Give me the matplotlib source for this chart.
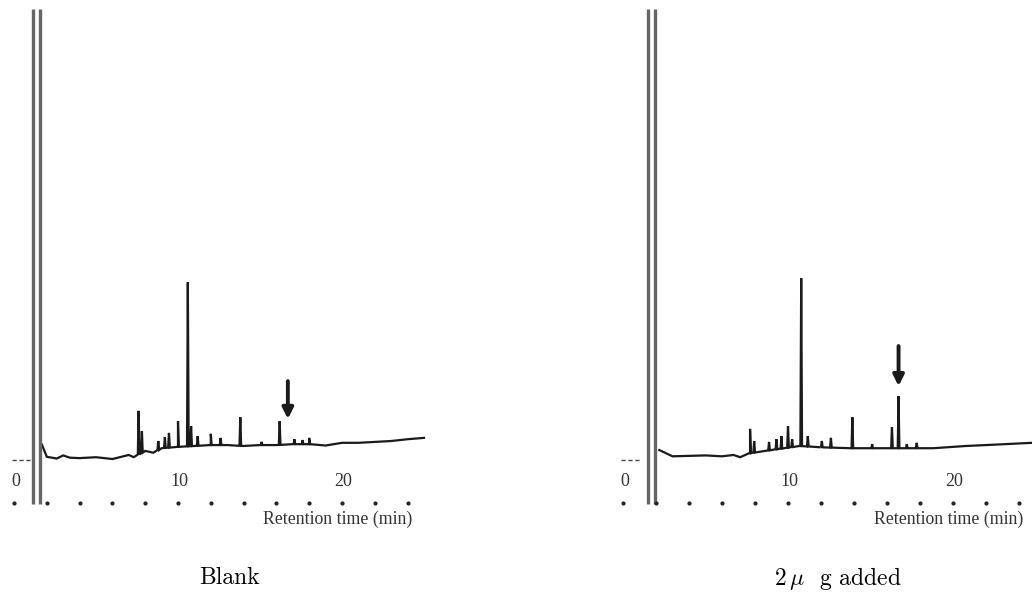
import numpy as np
import matplotlib.pyplot as plt

plt.rcParams['mathtext.fontset'] = 'cm'

# retention times (min) and detector response (arbitrary units)
blank_base_t = [1.7, 2.0, 2.6, 3.0, 3.4, 4.0, 5.0, 6.0, 7.0, 7.3, 8.0, 8.5, 9.0, 10.0, 11.0, 12.0, 13.0,
                14.0, 15.0, 16.0, 17.0, 18.0, 19.0, 20.0, 21.0, 22.0, 23.0, 24.0, 25.0]
blank_base_y = [3.2, 0.5, 0.1, 0.8, 0.3, 0.2, 0.4, 0.0, 0.9, 0.4, 1.8, 1.4, 2.4, 2.7, 2.9, 3.1, 3.1,
                2.9, 3.1, 3.1, 3.3, 3.3, 3.0, 3.6, 3.6, 3.8, 4.0, 4.4, 4.7]
blank_peak_t = [7.6, 7.8, 8.8, 9.2, 9.45, 10.0, 10.6, 10.8, 11.2, 12.0, 12.6,
                13.8, 15.1, 16.2, 17.1, 17.6, 18.0]
blank_peak_y = [10.7, 6.2, 4.0, 4.9, 5.8, 8.4, 39.3, 7.3, 5.1, 5.6, 4.7,
                9.3, 3.8, 8.4, 4.4, 4.2, 4.7]
blank_solvent_t = [1.15, 1.6]

added_base_t = [2.2, 3.0, 4.0, 5.0, 6.0, 6.7, 7.1, 7.7, 9.0, 10.7, 12.0,
                13.8, 16.2, 18.8, 20.8, 22.0, 24.8]
added_base_y = [2.0, 0.6, 0.7, 0.8, 0.6, 0.9, 0.4, 1.3, 2.0, 2.9, 2.6,
                2.4, 2.4, 2.4, 2.9, 3.1, 3.6]
added_peak_t = [7.7, 7.95, 8.85, 9.3, 9.6, 10.0, 10.25, 10.8, 11.2, 12.05, 12.6,
                13.9, 15.1, 16.3, 16.7, 17.2, 17.8]
added_peak_y = [6.7, 4.0, 3.8, 4.4, 5.1, 7.3, 4.4, 40.2, 5.1, 4.0, 4.7,
                9.3, 3.3, 7.1, 14.0, 3.3, 3.6]
added_solvent_t = [1.5, 1.95]

axis_dots = [0, 2, 4, 6, 8, 10, 12, 14, 16, 18, 20, 22, 24]
tick_labels = ['0', '10', '20']
tick_pos = [0, 10, 20]
target_t = 16.7
captions = ['Blank', r'$2\,\mu$  g added']


def trace(base_t, base_y, peak_t, peak_y):
    xs, ys = list(base_t), list(base_y)
    for t, h in zip(peak_t, peak_y):
        b = np.interp(t, base_t, base_y)
        xs += [t - 0.05, t, t + 0.05]
        ys += [b, h, b]
    order = np.argsort(xs, kind='stable')
    return np.array(xs)[order], np.array(ys)[order]


def panel(ax, base_t, base_y, peak_t, peak_y, solvent_t, arrow_y, xmax):
    ax.set_xlim(-0.5, xmax)
    ax.set_ylim(-15, 101)
    ax.axis('off')
    x, y = trace(base_t, base_y, peak_t, peak_y)
    ax.plot(x, y, color='#1a1a1a', lw=1.6, solid_joinstyle='miter')
    ax.plot([-0.1, 1.0], [-0.2, -0.2], color='#444', lw=1.0, ls=(0, (3, 2)))
    ax.vlines(solvent_t, -10, 100, color='#666', lw=2.4)
    ax.plot(axis_dots, [-9.8] * len(axis_dots), ls='none', marker='o',
            ms=2.0, color='#222')
    for p, s in zip(tick_pos, tick_labels):
        ax.text(p + 0.1, -4.9, s, ha='center', va='center',
                family='Liberation Serif', fontsize=13, color='#333')
    ax.text(19.75, -13.5, 'Retention time (min)', ha='center', va='center',
            family='Liberation Serif', fontsize=12.8, color='#333')
    ax.annotate('', xy=(target_t, arrow_y[1]), xytext=(target_t, arrow_y[0]),
                arrowprops=dict(arrowstyle='-|>', color='#1a1a1a', lw=2.8,
                                mutation_scale=16, shrinkA=0, shrinkB=0))


fig = plt.figure(figsize=(10.32, 5.99), dpi=100)
ax1 = fig.add_axes([0.00562, 0.121, 0.4211, 0.8715])
ax2 = fig.add_axes([0.5957, 0.121, 0.4077, 0.8715])
panel(ax1, blank_base_t, blank_base_y, blank_peak_t, blank_peak_y,
      blank_solvent_t, (17.3, 8.9), 26)
panel(ax2, added_base_t, added_base_y, added_peak_t, added_peak_y,
      added_solvent_t, (25.1, 16.2), 25)

fig.text(230 / 1032, 1 - 578 / 599, captions[0], ha='center', va='center',
         family=['cmr10', 'DejaVu Serif'], fontsize=17)
fig.text(838 / 1032, 1 - 578 / 599, captions[1], ha='center', va='center',
         family=['cmr10', 'DejaVu Serif'], fontsize=17)

fig.savefig('out.png', dpi=100, facecolor='white')
